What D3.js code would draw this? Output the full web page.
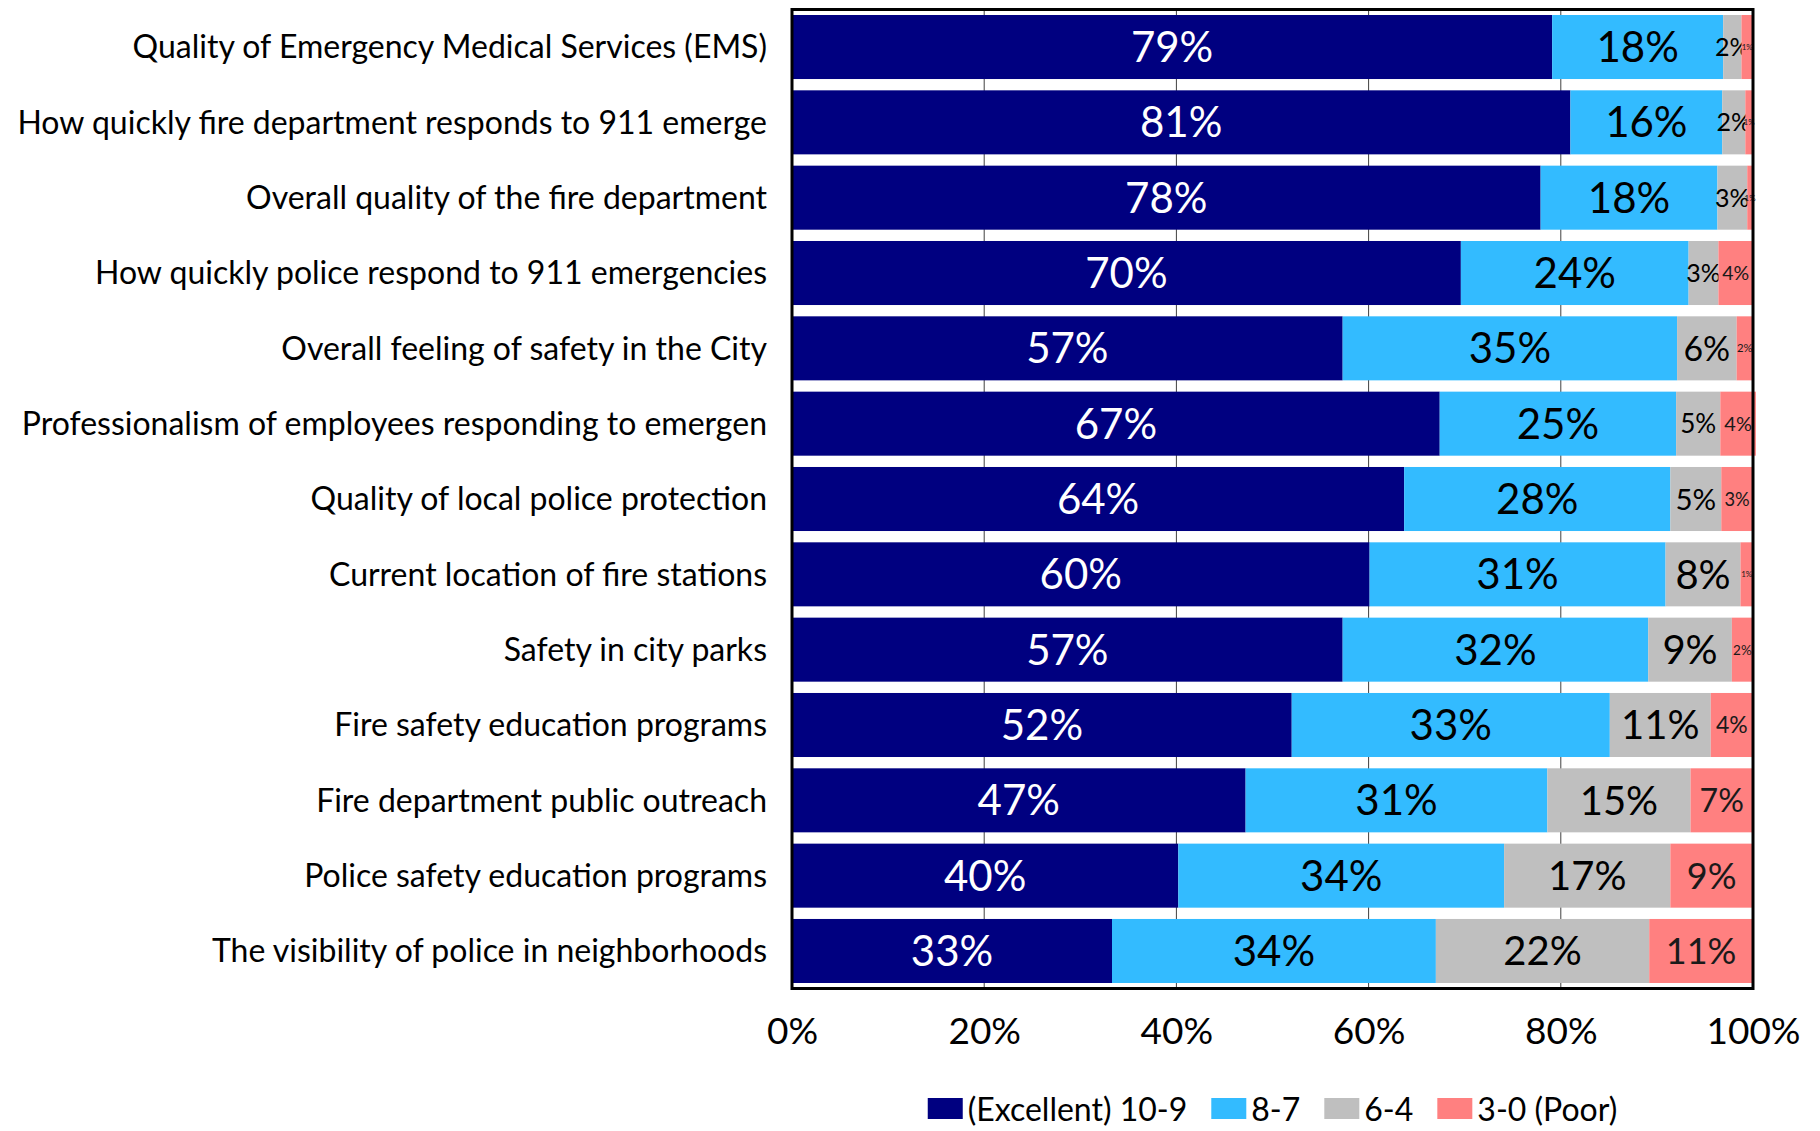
<!DOCTYPE html>
<html>
<head>
<meta charset="utf-8">
<script src="https://cdn.jsdelivr.net/npm/d3@7"></script>
<style>
  body { margin: 0; background: white; }
  text { font-family: Lato, "Noto Sans", sans-serif; }
</style>
</head>
<body>
<div id="chart"></div>
<script>
// rows, top to bottom
let categories = [
  'Quality of Emergency Medical Services (EMS)',
  'How quickly fire department responds to 911 emerge',
  'Overall quality of the fire department',
  'How quickly police respond to 911 emergencies',
  'Overall feeling of safety in the City',
  'Professionalism of employees responding to emergen',
  'Quality of local police protection',
  'Current location of fire stations',
  'Safety in city parks',
  'Fire safety education programs',
  'Fire department public outreach',
  'Police safety education programs',
  'The visibility of police in neighborhoods'
]

// share of answers per rating group (percent)
let excellent = [79.1, 81.0, 77.9, 69.6, 57.3, 67.4, 63.7, 60.1, 57.3, 52.0, 47.2, 40.2, 33.3]
let good      = [17.8, 15.8, 18.4, 23.7, 34.8, 24.6, 27.7, 30.8, 31.8, 33.1, 31.4, 33.9, 33.7]
let fair      = [1.9, 2.4, 3.1, 3.1, 6.2, 4.6, 5.3, 7.8, 8.7, 10.5, 14.9, 17.3, 22.2]
let poor      = [1.2, 0.8, 0.6, 3.6, 1.7, 3.7, 3.3, 1.3, 2.2, 4.4, 6.5, 8.6, 10.8]

let seriesNames = ['(Excellent) 10-9', '8-7', '6-4', '3-0 (Poor)']
let tickValues = [0, 20, 40, 60, 80, 100]

let colors = ['#000080', '#33bbff', '#bfbfbf', '#ff8080']
let textColors = ['#ffffff', '#000000', '#000000', '#1a1a1a']

let width = 1820,
    height = 1131,
    plotLeft = 792, plotRight = 1753, plotTop = 9.5, plotBottom = 988.5

let svg = d3.select('#chart')
  .append('svg')
  .attr('width', width)
  .attr('height', height)

let x = d3.scaleLinear().domain([0, 100]).range([plotLeft, plotRight])
let y = d3.scaleBand()
  .domain(categories)
  .range([plotTop, plotBottom])
  .paddingInner(0.15)
  .paddingOuter(0.073)

// build table for the stack
let table = categories.map(function(c, i){
  return {cat: c, s0: excellent[i], s1: good[i], s2: fair[i], s3: poor[i]}
})
let stack = d3.stack().keys(['s0', 's1', 's2', 's3'])
let layers = stack(table)

// vertical gridlines behind the bars
svg.append('g')
  .selectAll('line')
  .data(tickValues.slice(1, -1))
  .enter().append('line')
  .attr('x1', function(d){ return x(d) })
  .attr('x2', function(d){ return x(d) })
  .attr('y1', plotTop)
  .attr('y2', plotBottom)
  .attr('stroke', '#404040')
  .attr('stroke-width', 1)

// bars
let groups = svg.selectAll('.layer')
  .data(layers)
  .enter().append('g')
  .attr('class', 'layer')
  .attr('fill', function(d, i){ return colors[i] })

groups.selectAll('rect')
  .data(function(d){ return d })
  .enter().append('rect')
  .attr('x', function(d){ return x(d[0]) })
  .attr('y', function(d){ return y(d.data.cat) })
  .attr('width', function(d){ return x(d[1]) - x(d[0]) })
  .attr('height', y.bandwidth())

// label size - big labels everywhere except in the thin grey / pink pieces
function labelSize(k, w) {
  if (k < 2) return 42
  if (k == 2) return Math.max(25, Math.min(40, w * 0.5 + 4))
  if (w < 14) return 8
  return Math.max(10, Math.min(36, w * 0.45 + 4))
}

groups.selectAll('text')
  .data(function(d){ return d.map(function(p){ p.key = d.index; return p }) })
  .enter().append('text')
  .attr('x', function(d){ return (x(d[0]) + x(d[1])) / 2 })
  .attr('y', function(d){ return y(d.data.cat) + y.bandwidth() / 2 })
  .attr('dy', '0.36em')
  .attr('text-anchor', 'middle')
  .attr('fill', function(d){ return textColors[d.key] })
  .style('font-size', function(d){ return labelSize(d.key, x(d[1]) - x(d[0])) + 'px' })
  .text(function(d){ return Math.round(d[1] - d[0]) + '%' })

// frame
svg.append('rect')
  .attr('x', plotLeft)
  .attr('y', plotTop)
  .attr('width', plotRight - plotLeft)
  .attr('height', plotBottom - plotTop)
  .attr('fill', 'none')
  .attr('stroke', 'black')
  .attr('stroke-width', 3)

// category labels
svg.append('g')
  .selectAll('text')
  .data(categories)
  .enter().append('text')
  .attr('x', 767)
  .attr('y', function(d){ return y(d) + y.bandwidth() / 2 })
  .attr('dy', '0.35em')
  .attr('text-anchor', 'end')
  .style('font-size', '32px')
  .text(function(d){ return d })

// x axis labels
let axis = d3.axisBottom(x)
  .tickValues(tickValues)
  .tickFormat(function(d){ return d + '%' })
  .tickSize(0)

let gx = svg.append('g')
  .attr('transform', 'translate(0,' + plotBottom + ')')
  .call(axis)
gx.select('.domain').remove()
gx.selectAll('text')
  .attr('y', 42)
  .attr('dy', '0.36em')
  .attr('fill', 'black')
  .style('font-size', '37px')
  .style('font-family', 'Lato, sans-serif')

// legend, centred under the plot
let legend = svg.append('g')
let pos = 0
seriesNames.forEach(function(name, i){
  let item = legend.append('g').attr('transform', 'translate(' + pos + ',0)')
  item.append('rect')
    .attr('x', 0).attr('y', -11)
    .attr('width', 35).attr('height', 21)
    .attr('fill', colors[i])
  let t = item.append('text')
    .attr('x', 40)
    .attr('y', 0)
    .attr('dy', '0.36em')
    .style('font-size', '32px')
    .text(name)
  pos += 40 + t.node().getComputedTextLength() + 24
})
pos -= 24
legend.attr('transform', 'translate(' + ((plotLeft + plotRight) / 2 - pos / 2) + ',1109)')
</script>
</body>
</html>
